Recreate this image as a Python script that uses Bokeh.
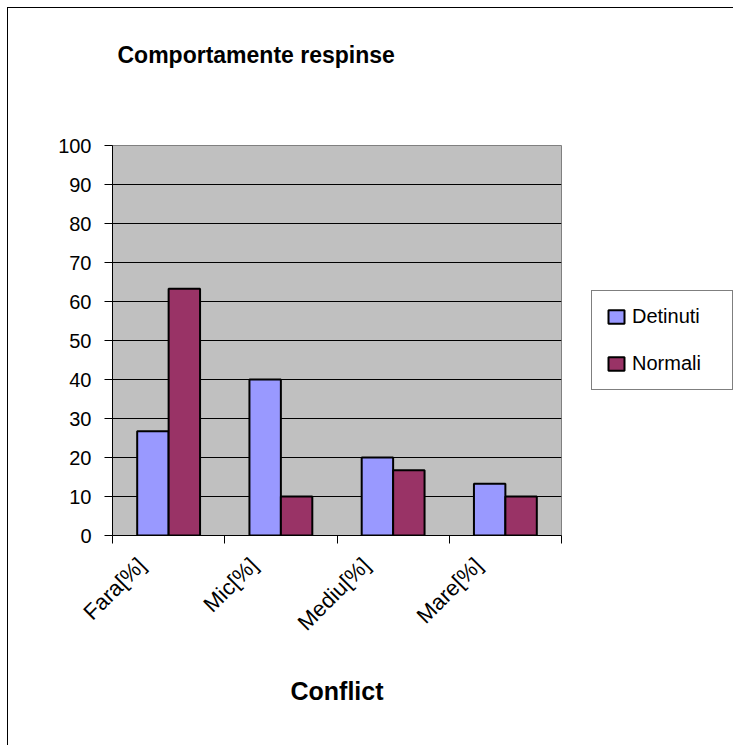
import numpy as np
from bokeh.plotting import figure
from bokeh.layouts import row
from bokeh.models import Range1d, FixedTicker, Legend, LegendItem, ColumnDataSource
from bokeh.embed import file_html
from bokeh.resources import INLINE

categories = ["Fara[%]", "Mic[%]", "Mediu[%]", "Mare[%]"]
series_names = ["Detinuti", "Normali"]
series_colors = ["#9999FF", "#993366"]
detinuti = [26.7, 40.0, 20.0, 13.3]
normali = [63.3, 10.0, 16.7, 10.0]
y_ticks = [0, 10, 20, 30, 40, 50, 60, 70, 80, 90, 100]

FONT = "Liberation Sans"

p = figure(width=555, height=737, output_backend="svg", toolbar_location=None,
           x_range=Range1d(0, len(categories)), y_range=Range1d(0, 100),
           min_border_left=104, min_border_right=2, min_border_top=137,
           min_border_bottom=210)

p.background_fill_color = "#C0C0C0"
p.border_fill_color = "white"
p.outline_line_color = "#808080"
p.outline_line_width = 1

idx = np.arange(len(categories))
src = ColumnDataSource(dict(x1=idx + 0.5 - 0.14, x2=idx + 0.5 + 0.14,
                            d=detinuti, n=normali))
r1 = p.vbar(x="x1", top="d", width=0.28, source=src, fill_color=series_colors[0],
            line_color="black", line_width=2)
r2 = p.vbar(x="x2", top="n", width=0.28, source=src, fill_color=series_colors[1],
            line_color="black", line_width=2)

# title
p.title.text = "Comportamente respinse"
p.title.text_font = FONT
p.title.text_font_size = "23px"
p.title.text_font_style = "bold"
p.title.text_color = "black"
p.title.align = "left"
p.title.offset = 5
p.title.standoff = 2
p.title.padding = (0, 0, 0, 77)

# x axis
xa = p.xaxis[0]
xa.ticker = FixedTicker(ticks=list(idx + 0.5 - 0.24),
                        minor_ticks=list(range(len(categories) + 1)))
xa.major_label_overrides = {float(i + 0.5 - 0.24): c for i, c in enumerate(categories)}
xa.major_tick_out = 0
xa.major_tick_in = 0
xa.minor_tick_out = 8
xa.minor_tick_in = 0
xa.minor_tick_line_color = "black"
xa.axis_line_color = "black"
xa.major_label_orientation = np.pi / 4
xa.major_label_text_font = FONT
xa.major_label_text_font_size = "22px"
xa.major_label_text_color = "black"
xa.major_label_standoff = 18
xa.axis_label = "Conflict"
xa.axis_label_text_font = FONT
xa.axis_label_text_font_size = "25px"
xa.axis_label_text_font_style = "bold"
xa.axis_label_text_color = "black"
xa.axis_label_standoff = 30

# y axis
ya = p.yaxis[0]
ya.ticker = FixedTicker(ticks=y_ticks)
ya.minor_tick_line_color = None
ya.major_tick_out = 8
ya.major_tick_in = 0
ya.major_tick_line_color = "black"
ya.axis_line_color = "black"
ya.major_label_text_font = FONT
ya.major_label_text_font_size = "20px"
ya.major_label_text_color = "black"
ya.major_label_standoff = 13

p.xgrid.grid_line_color = None
p.ygrid.grid_line_color = "black"
p.ygrid.grid_line_width = 1

# legend panel to the right of the plot area (its renderers are hidden, only
# the legend entries are shown)
q = figure(width=170, height=737, output_backend="svg", toolbar_location=None,
           x_range=Range1d(100, 101), y_range=Range1d(1000, 1100),
           min_border=0, min_border_left=0, min_border_right=0,
           min_border_top=0, min_border_bottom=0)
q.outline_line_color = None
q.background_fill_color = "white"
q.border_fill_color = "white"
q.axis.visible = False
q.grid.visible = False
l1 = q.vbar(x="x1", top="d", width=0.28, source=src, fill_color=series_colors[0],
            line_color="black", line_width=2)
l2 = q.vbar(x="x2", top="n", width=0.28, source=src, fill_color=series_colors[1],
            line_color="black", line_width=2)
l1.visible = False
l2.visible = False

legend = Legend(items=[LegendItem(label=series_names[0], renderers=[l1]),
                       LegendItem(label=series_names[1], renderers=[l2])],
                location=(28, 145), orientation="vertical")
legend.click_policy = "none"
legend.inactive_fill_alpha = 0
legend.border_line_color = "black"
legend.border_line_width = 1
legend.background_fill_color = "white"
legend.background_fill_alpha = 1
legend.label_text_font = FONT
legend.label_text_font_size = "20px"
legend.label_text_color = "black"
legend.glyph_width = 20
legend.glyph_height = 17
legend.label_height = 22
legend.label_width = 86
legend.label_standoff = 6
legend.spacing = 24
legend.padding = 14
legend.margin = 0
q.add_layout(legend, "center")

layout = row(p, q, margin=(7, 0, 0, 7),
             styles={"border-left": "1px solid black", "border-top": "1px solid black"})

open("out.html", "w").write(file_html(layout, INLINE))
